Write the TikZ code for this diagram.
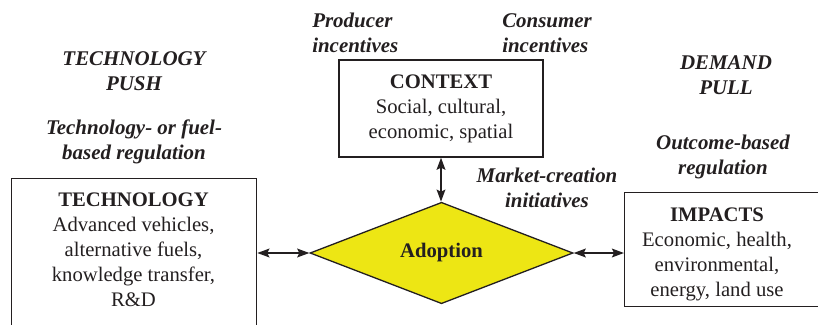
\documentclass[tikz,border=0pt]{standalone}
\usepackage{fontspec}
\setmainfont{Liberation Serif}
\newfontfamily\lblfont{Liberation Serif}
\usetikzlibrary{shapes.geometric,positioning,arrows.meta}
\definecolor{ink}{RGB}{35,31,32}
\definecolor{adoptyellow}{RGB}{237,230,20}

\begin{document}
\begin{tikzpicture}[x=0.75pt,y=-0.75pt]
        \def\px{0.75pt}
        \tikzset{
            box/.style={draw=ink, line width=1.3*\px},
            boxtext/.style={text=ink, align=center, inner sep=0pt,
                font=\fontsize{15.5}{18.75}\selectfont},
            lbl/.style={text=ink, align=center, inner sep=0pt,
                font=\lblfont\bfseries\itshape\fontsize{15.7}{19.2}\selectfont},
            link/.style={draw=ink, line width=2*\px,
                {Stealth[length=9pt,width=6.5pt,inset=1.5pt]}-{Stealth[length=9pt,width=6.5pt,inset=1.5pt]}}
        }
        \useasboundingbox (0,0) rectangle (818,325);

        % boxes
        \node (tech) [box, anchor=north west, minimum width=245*\px,
            minimum height=200*\px] at (11,178) {};
        \node (techtext) [boxtext] at (133.5,250)
            {\textbf{TECHNOLOGY}\\Advanced vehicles,\\alternative fuels,\\knowledge transfer,\\R\&D};
        \node (context) [box, boxtext, minimum width=204*\px,
            minimum height=97*\px] at (441,108.5)
            {\textbf{CONTEXT}\\Social, cultural,\\economic, spatial};
        \node (impacts) [box, anchor=north west, minimum width=220*\px,
            minimum height=114*\px] at (624,192) {};
        \node (impactstext) [boxtext] at (717,254)
            {\textbf{IMPACTS}\\Economic, health,\\environmental,\\energy, land use};
        \node (adopt) [diamond, draw=ink, fill=adoptyellow, line width=1.3*\px,
            minimum width=263*\px, minimum height=70*\px, inner sep=0pt,
            text=ink, font=\bfseries\fontsize{15.5}{18.75}\selectfont] at (441.5,253) {Adoption};

        % labels
        \node (push) [lbl] at (134,71) {TECHNOLOGY\\PUSH};
        \node (techreg) [lbl] at (134,142) {Technology- or fuel-\\based regulation};
        \node (producer) [lbl, align=left, anchor=west] at (312,33) {Producer\\incentives};
        \node (consumer) [lbl, align=left, anchor=west] at (502,33) {Consumer\\incentives};
        \node (pull) [lbl] at (726,75) {DEMAND\\PULL};
        \node (outreg) [lbl] at (723,157) {Outcome-based\\regulation};
        \node (market) [lbl] at (547,188) {Market-creation\\initiatives};

        % arrows
        \begin{scope}
            \draw[link] (context.south) -- (context.south |- adopt.north);
            \draw[link] (tech.east |- adopt.west) -- (adopt.west);
            \draw[link] (adopt.east) -- (adopt.east -| impacts.west);
        \end{scope}
\end{tikzpicture}
\end{document}
